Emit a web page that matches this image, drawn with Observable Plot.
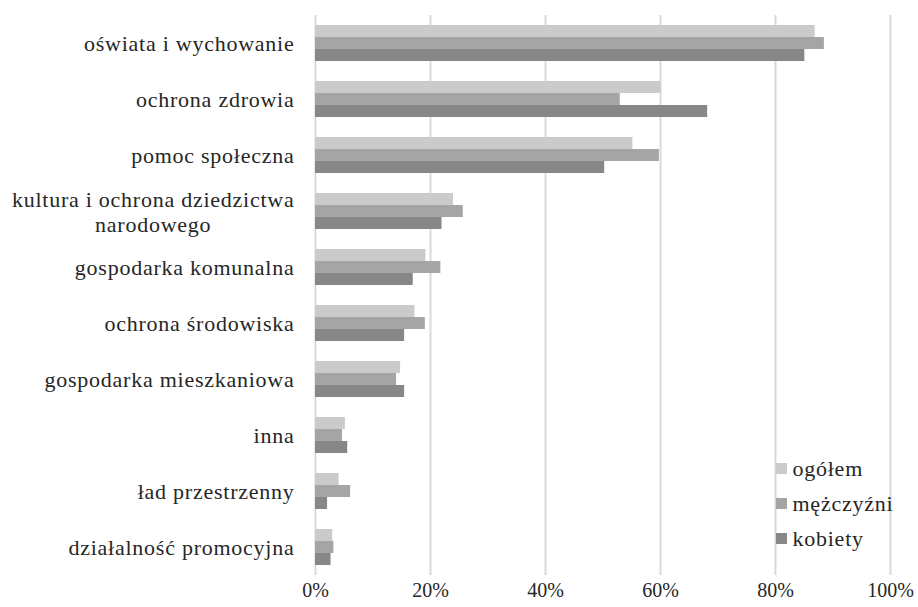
<!DOCTYPE html>
<html><head><meta charset="utf-8">
<script src="https://cdn.jsdelivr.net/npm/d3@7"></script>
<script src="https://cdn.jsdelivr.net/npm/@observablehq/plot@0.6"></script>
<style>
body{margin:0;background:#fff;}
#wrap{position:relative;width:918px;height:607px;font-family:"Liberation Serif","Times New Roman";color:#262626;}
#wrap svg g[aria-label="text"]{letter-spacing:0.75px;}
#legend{position:absolute;left:776px;top:451px;}
.row{display:flex;align-items:center;height:35px;line-height:35px;font-size:22px;letter-spacing:0.75px;white-space:nowrap;}
.sw{width:11px;height:11px;margin-right:5.5px;flex:none;}
</style></head><body><div id="wrap"></div>
<script>
const categories = [
  "oświata i wychowanie",
  "ochrona zdrowia",
  "pomoc społeczna",
  "kultura i ochrona dziedzictwa\nnarodowego",
  "gospodarka komunalna",
  "ochrona środowiska",
  "gospodarka mieszkaniowa",
  "inna",
  "ład przestrzenny",
  "działalność promocyjna"
];
const ogolem    = [86.9, 60.1, 55.2, 24.0, 19.2, 17.3, 14.8, 5.2, 4.1, 3.0];
const mezczyzni = [88.5, 53.0, 59.8, 25.7, 21.8, 19.1, 14.1, 4.7, 6.1, 3.2];
const kobiety   = [85.1, 68.2, 50.3, 22.0, 17.0, 15.5, 15.5, 5.6, 2.1, 2.7];
const seriesNames = ["ogółem", "mężczyźni", "kobiety"];
const seriesColors = ["#cbcbcb", "#a5a5a5", "#878787"];
const xTicks = [0, 20, 40, 60, 80, 100];

const seriesValues = [ogolem, mezczyzni, kobiety];
const rows = categories.flatMap((c, i) =>
  seriesNames.map((s, j) => ({category: c, series: s, value: seriesValues[j][i]})));

const singleCats = categories.filter(c => !c.includes("\n"));
const multiCats = categories.filter(c => c.includes("\n"));

// measure the first line of multi-line labels so the lines are centred under each other
const ctx = document.createElement("canvas").getContext("2d");
ctx.font = '22px "Liberation Serif"';
const firstLine = multiCats.length ? multiCats[0].split("\n")[0] : "";
const firstW = ctx.measureText(firstLine).width + firstLine.length * 0.75;

const chart = Plot.plot({
  width: 918,
  height: 607,
  marginLeft: 315,
  marginRight: 28,
  marginTop: 15,
  marginBottom: 32,
  style: {fontFamily: '"Liberation Serif", "Times New Roman"', fontSize: "20px", color: "#262626", background: "#fff"},
  x: {domain: [0, 100], ticks: xTicks, tickFormat: d => d + "%", tickSize: 0, tickPadding: 7, label: null},
  fy: {domain: categories, padding: 0, axis: null},
  y: {domain: seriesNames, paddingInner: 0, paddingOuter: 0.833, axis: null},
  color: {domain: seriesNames, range: seriesColors},
  marks: [
    Plot.ruleX(xTicks, {stroke: "#d9d9d9", strokeWidth: 2}),
    Plot.barX(rows, {x: "value", y: "series", fy: "category", fill: "series", inset: 0}),
    Plot.text(singleCats, {fy: d => d, text: d => d, frameAnchor: "left", textAnchor: "end", dx: -21, fontSize: 22, fill: "#262626"}),
    Plot.text(multiCats, {fy: d => d, text: d => d, frameAnchor: "left", textAnchor: "middle", dx: -21 - firstW / 2, fontSize: 22, lineHeight: 1.136, fill: "#262626"})
  ]
});
const wrap = document.getElementById("wrap");
wrap.append(chart);

const legend = document.createElement("div");
legend.id = "legend";
seriesNames.forEach((s, i) => {
  const row = document.createElement("div");
  row.className = "row";
  const sw = document.createElement("span");
  sw.className = "sw";
  sw.style.background = seriesColors[i];
  const t = document.createElement("span");
  t.textContent = s;
  row.append(sw, t);
  legend.append(row);
});
wrap.append(legend);
</script>
</body></html>
